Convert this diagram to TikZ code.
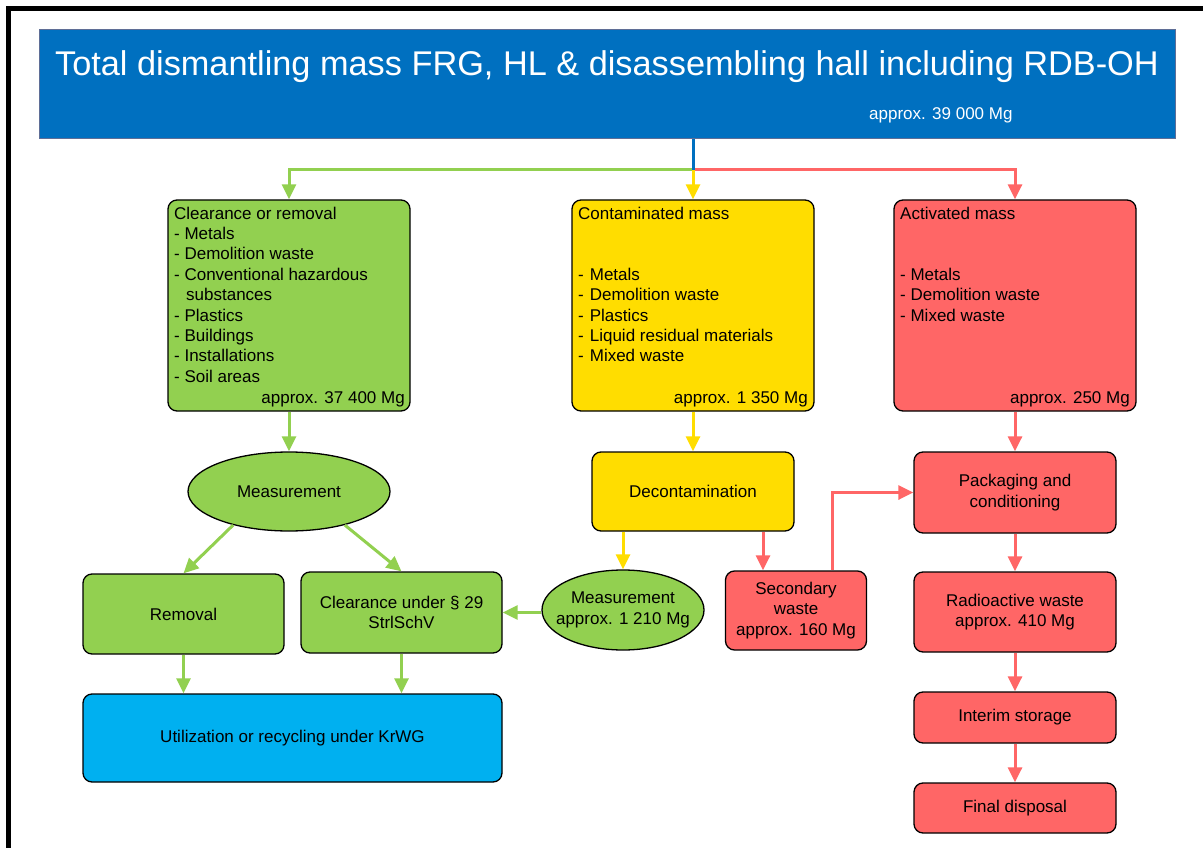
\documentclass[tikz,border=0pt]{standalone}
\usepackage{fontspec}
\setmainfont{Liberation Sans}
\usetikzlibrary{arrows.meta,shapes.geometric}
\definecolor{hdr}{RGB}{0,112,192}
\definecolor{hdredge}{RGB}{95,110,150}
\definecolor{grn}{RGB}{146,208,80}
\definecolor{ylw}{RGB}{255,221,0}
\definecolor{rd}{RGB}{255,102,102}
\definecolor{cyn}{RGB}{0,176,240}
\newcommand\fs{\fontsize{17}{20.4}\selectfont}
\tikzset{
  box/.style={draw=black, line width=1.3pt, rounded corners=9pt, inner sep=0pt, font=\fs, align=center},
  ell/.style={ellipse, draw=black, line width=1.3pt, fill=grn, inner sep=0pt, font=\fs, align=center},
  lst/.style={anchor=north west, inner sep=0pt, font=\fs, align=left},
  mass/.style={anchor=base east, inner sep=0pt, font=\fs},
  txt/.style={inner sep=0pt, font=\fs, align=center},
  arr/.style={line width=3pt, -{Triangle[width=14pt,length=15pt]}},
}
\begin{document}
\begin{tikzpicture}[x=1pt,y=-1pt]
\useasboundingbox (0,0) rectangle (1203,848);
% outer frame
\draw[line width=5pt] (8.5,870) -- (8.5,8.5) -- (1230,8.5);
% header
\node[draw=hdredge, line width=1pt, fill=hdr, minimum width=1136pt, minimum height=109pt, inner sep=0pt] (h) at (607,84.5) {};
\node[anchor=base, inner sep=0pt, text=white, font=\fontsize{34.3}{40}\selectfont] (ht) at (607,76) {Total dismantling mass FRG, HL \& disassembling hall including RDB-OH};
\node[anchor=base west, inner sep=0pt, text=white, font=\fs] (hm) at (869,120) {approx. 39 000 Mg};
\coordinate (hs) at (693,139);
\coordinate (j) at (693,170);
% first row
\node[box, fill=grn, minimum width=242pt, minimum height=211pt] (c1) at (289,305.5) {};
\node[box, fill=ylw, minimum width=242pt, minimum height=211pt] (c2) at (693,305.5) {};
\node[box, fill=rd, minimum width=242pt, minimum height=211pt] (c3) at (1015,305.5) {};
\node[lst] (c1t) at (174,206.5) {Clearance or removal\\- Metals\\- Demolition waste\\- Conventional hazardous\\\hspace{12pt}substances\\- Plastics\\- Buildings\\- Installations\\- Soil areas};
\node[mass] (c1m) at (405,403) {approx. 37 400 Mg};
\node[lst] (c2t) at (578,206.5) {Contaminated mass\\[40.8pt]-\hspace{6pt}Metals\\-\hspace{6pt}Demolition waste\\-\hspace{6pt}Plastics\\-\hspace{6pt}Liquid residual materials\\-\hspace{6pt}Mixed waste};
\node[mass] (c2m) at (808,403) {approx. 1 350 Mg};
\node[lst] (c3t) at (900,206.5) {Activated mass\\[40.8pt]- Metals\\- Demolition waste\\- Mixed waste};
\node[mass] (c3m) at (1130,403) {approx. 250 Mg};
% left column
\node[ell, minimum width=202pt, minimum height=79pt] (m1) at (289,491.5) {};
\node[txt] (m1t) at (m1) {Measurement};
\node[box, fill=grn, minimum width=201pt, minimum height=80pt] (rem) at (183.5,614) {Removal};
\node[box, fill=grn, minimum width=201pt, minimum height=81pt] (clr) at (401.5,612.5) {Clearance under § 29\\StrlSchV};
\node[box, fill=cyn, minimum width=419pt, minimum height=88pt] (util) at (292.5,738) {Utilization or recycling under KrWG};
% middle column
\node[box, fill=ylw, minimum width=202pt, minimum height=79pt] (deco) at (693,491.5) {Decontamination};
\node[ell, minimum width=162pt, minimum height=80pt] (m2) at (623,610) {};
\node[txt] (m2t) at (m2) {Measurement\\approx. 1 210 Mg};
\node[box, fill=rd, minimum width=141pt, minimum height=79pt] (sec) at (796,610.5) {Secondary\\waste\\approx. 160 Mg};
% right column
\node[box, fill=rd, minimum width=202pt, minimum height=81pt] (pack) at (1015,492.5) {Packaging and\\conditioning};
\node[box, fill=rd, minimum width=202pt, minimum height=80pt] (rad) at (1015,612) {Radioactive waste\\approx. 410 Mg};
\node[box, fill=rd, minimum width=202pt, minimum height=51pt] (int) at (1015,717.5) {Interim storage};
\node[box, fill=rd, minimum width=202pt, minimum height=50pt] (fin) at (1015,808) {Final disposal};
% connectors from header
\draw[arr, grn] (j) -| (c1.north);
\draw[arr, rd] (j) -| (c3.north);
\draw[arr, ylw] (j) -- (c2.north);
\draw[line width=3pt, hdr] (hs) -- (j);
% left connectors
\draw[arr, grn] (c1.south) -- (m1.north);
\draw[arr, grn] (m1.211) -- (rem.north);
\draw[arr, grn] (m1.329) -- (clr.north);
\draw[arr, grn] (rem.south) -- (rem.south |- util.north);
\draw[arr, grn] (clr.south) -- (clr.south |- util.north);
% middle connectors
\draw[arr, ylw] (c2.south) -- (deco.north);
\draw[arr, ylw] (m2.north |- deco.south) -- (m2.north);
\draw[arr, rd] ([xshift=70pt]deco.south) -- ([xshift=-33pt]sec.north);
\draw[arr, grn] (m2.west |- clr.east) -- (clr.east);
\draw[arr, rd] ([xshift=36pt]sec.north) |- (pack.west);
% right connectors
\draw[arr, rd] (c3.south) -- (pack.north);
\draw[arr, rd] (pack.south) -- (rad.north);
\draw[arr, rd] (rad.south) -- (int.north);
\draw[arr, rd] (int.south) -- (fin.north);
\end{tikzpicture}
\end{document}
